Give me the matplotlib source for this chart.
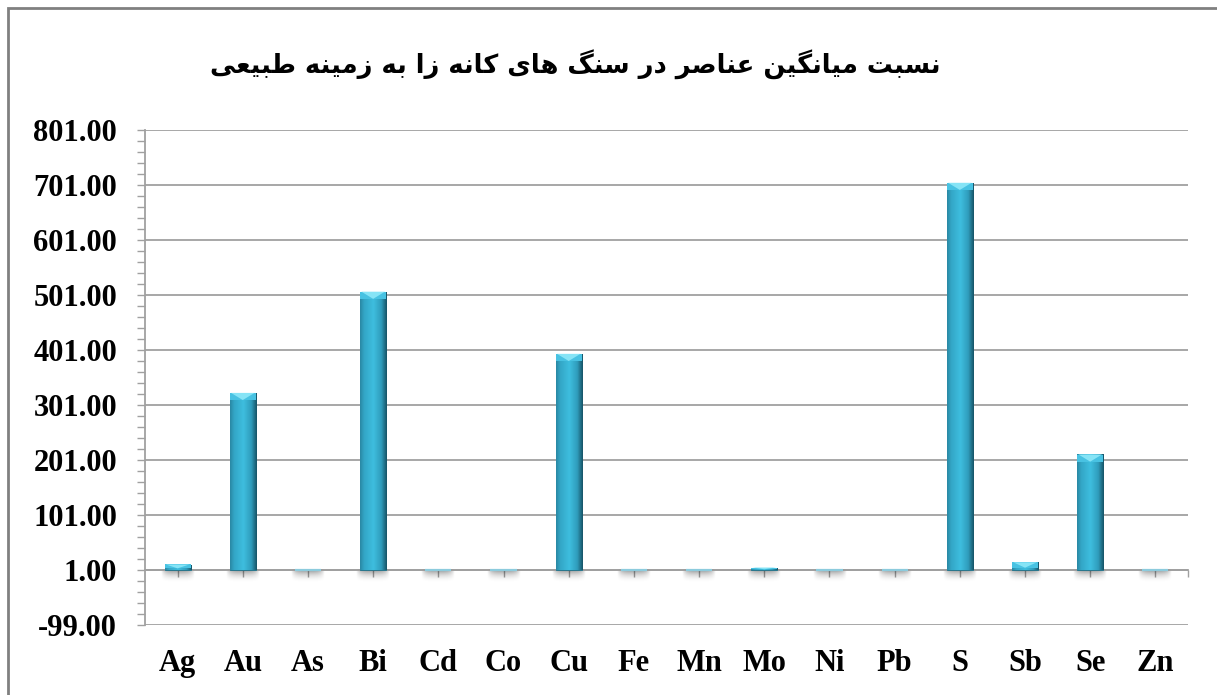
import numpy as np
import matplotlib
matplotlib.use("Agg")
import matplotlib.pyplot as plt
from matplotlib.colors import LinearSegmentedColormap
from matplotlib.patches import Rectangle, Polygon

# data
elements = ['Ag', 'Au', 'As', 'Bi', 'Cd', 'Co', 'Cu', 'Fe',
            'Mn', 'Mo', 'Ni', 'Pb', 'S', 'Sb', 'Se', 'Zn']
ratios = [11, 323, 1.3, 507, 1.3, 1.3, 394, 1.3,
          1.3, 5.5, 1.3, 1.3, 705, 15, 211, 1.3]
y_ticks = [-99, 1, 101, 201, 301, 401, 501, 601, 701, 801]
title = 'نسبت میانگین عناصر در سنگ های کانه زا به زمینه طبیعی'
base = 1.0  # category axis crosses the value axis here

# matplotlib has no arabic shaping, so map letters to presentation forms by hand
FORMS = {
    'ا': ('\uFE8D', '\uFE8E', None, None),
    'ب': ('\uFE8F', '\uFE90', '\uFE91', '\uFE92'),
    'ت': ('\uFE95', '\uFE96', '\uFE97', '\uFE98'),
    'د': ('\uFEA9', '\uFEAA', None, None),
    'ر': ('\uFEAD', '\uFEAE', None, None),
    'ز': ('\uFEAF', '\uFEB0', None, None),
    'س': ('\uFEB1', '\uFEB2', '\uFEB3', '\uFEB4'),
    'ص': ('\uFEB9', '\uFEBA', '\uFEBB', '\uFEBC'),
    'ط': ('\uFEC1', '\uFEC2', '\uFEC3', '\uFEC4'),
    'ع': ('\uFEC9', '\uFECA', '\uFECB', '\uFECC'),
    'م': ('\uFEE1', '\uFEE2', '\uFEE3', '\uFEE4'),
    'ن': ('\uFEE5', '\uFEE6', '\uFEE7', '\uFEE8'),
    'ه': ('\uFEE9', '\uFEEA', '\uFEEB', '\uFEEC'),
    'ی': ('\uFBFC', '\uFBFD', '\uFBFE', '\uFBFF'),
    'ک': ('\uFB8E', '\uFB8F', '\uFB90', '\uFB91'),
    'گ': ('\uFB92', '\uFB93', '\uFB94', '\uFB95'),
}


def shape_rtl(text):
    out = []
    for i, ch in enumerate(text):
        if ch not in FORMS:
            out.append(ch)
            continue
        prev = text[i - 1] if i > 0 else ''
        nxt = text[i + 1] if i + 1 < len(text) else ''
        join_prev = prev in FORMS and FORMS[prev][2] is not None
        join_next = FORMS[ch][2] is not None and nxt in FORMS
        iso, fin, ini, med = FORMS[ch]
        if join_prev and join_next:
            out.append(med)
        elif join_prev:
            out.append(fin)
        elif join_next:
            out.append(ini)
        else:
            out.append(iso)
    return ''.join(out)[::-1]


W, H = 1217, 695
fig = plt.figure(figsize=(W / 100, H / 100), dpi=100)
fig.patch.set_facecolor('white')
ax = fig.add_axes([145 / W, 1 - 625 / H, (1188 - 145) / W, (625 - 130) / H])

grey = '#A0A0A0'
x = np.arange(len(elements))
heights = [v - base for v in ratios]
edge_cols = ['#1F6F86' if h > 3 else '#8CCBDD' for h in heights]
edge_lws = [0.6 if h > 3 else 1.6 for h in heights]
bars = ax.bar(x, heights, width=0.4, bottom=base, color='#35AFD0',
              edgecolor=edge_cols, linewidth=edge_lws, zorder=3)

cyl = LinearSegmentedColormap.from_list('cyl', [
    (0.0, '#2A88A4'), (0.15, '#33A6C6'), (0.5, '#3EBEDF'),
    (0.8, '#2F9CBB'), (1.0, '#175467')])
grad = np.linspace(0, 1, 64).reshape(1, -1)

# soft shadow below the baseline
sh = np.zeros((32, 64, 4))
ty = np.linspace(0, 1, 32).reshape(-1, 1)
tx = np.linspace(-1, 1, 64).reshape(1, -1)
sh[..., 3] = 0.45 * (1 - ty) ** 2 * np.clip(1 - tx ** 4, 0, 1)

for b in bars:
    x0, w = b.get_x(), b.get_width()
    y0, h = b.get_y(), b.get_height()
    ax.imshow(sh, extent=(x0 - 0.06, x0 + w + 0.06, base - 24, base),
              aspect='auto', interpolation='bilinear', zorder=2)
    if h <= 3:
        continue
    im = ax.imshow(grad, cmap=cyl, extent=(x0, x0 + w, y0, y0 + h),
                   aspect='auto', interpolation='bilinear', zorder=3.5)
    im.set_clip_path(b)
    cap = min(13, h * 0.7)
    top = y0 + h
    ax.add_patch(Rectangle((x0, top - cap), w, cap, facecolor='#48C2E2',
                           edgecolor='none', zorder=4))
    ax.add_patch(Polygon([(x0 + w * 0.05, top), (x0 + w * 0.95, top),
                          (x0 + w / 2, top - cap)],
                         closed=True, facecolor='#86E4F6', edgecolor='none', zorder=4.1))

ax.set_xlim(-0.5, len(elements) - 0.5)
ax.set_ylim(y_ticks[0], y_ticks[-1])
ax.set_yticks(y_ticks)
ax.set_yticklabels([f'{t:.2f}' for t in y_ticks])
ax.set_yticks(np.arange(y_ticks[0], y_ticks[-1] + 1, 20), minor=True)
ax.grid(axis='y', color=grey, linewidth=1.3, zorder=1)
ax.set_axisbelow(True)

ax.set_xticks(list(x) + [len(elements) - 0.5])
ax.set_xticklabels(elements + [''])

for s in ['top', 'right']:
    ax.spines[s].set_visible(False)
ax.spines['left'].set_color(grey)
ax.spines['left'].set_linewidth(1.3)
ax.spines['bottom'].set_position(('data', base))
ax.spines['bottom'].set_color(grey)
ax.spines['bottom'].set_linewidth(1.3)
ax.spines['bottom'].set_zorder(2.5)

tick_font = dict(family='Liberation Serif', weight='bold', size=22)
ax.tick_params(axis='y', which='both', direction='out', length=6, width=1,
               color=grey, pad=14)
ax.tick_params(axis='x', direction='out', length=5, width=1, color=grey, pad=52)
for lab in ax.get_yticklabels() + ax.get_xticklabels():
    lab.set_fontfamily(tick_font['family'])
    lab.set_fontweight(tick_font['weight'])
    lab.set_fontsize(tick_font['size'])

fig.text(0.473, 1 - 65 / H, shape_rtl(title), ha='center', va='center',
         family=['DejaVu Sans'], weight='bold', fontsize=18.5)

# outer chart frame (only left and top edges visible in the crop)
fig.add_artist(Rectangle((8 / W, -0.1), 1.2, 1 - 8 / H + 0.1,
                         transform=fig.transFigure, fill=False,
                         edgecolor='#808080', linewidth=2))

fig.savefig('out.png', dpi=100, facecolor='white')
